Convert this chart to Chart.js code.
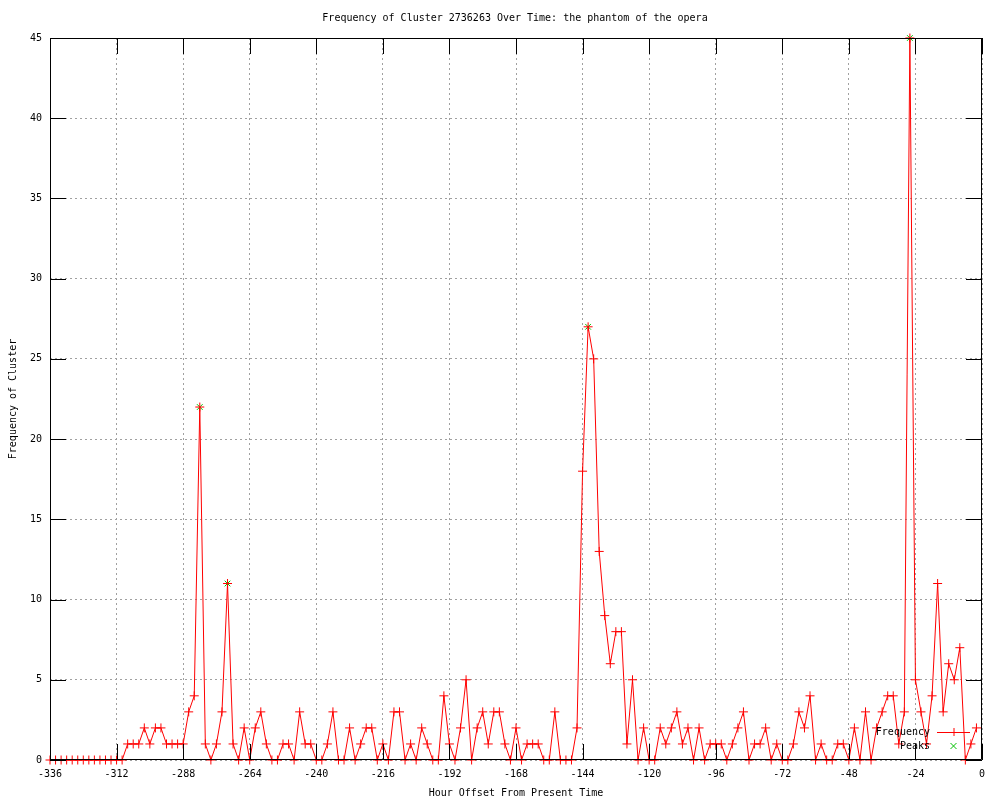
<!DOCTYPE html>
<html lang="en">
<head>
  <meta charset="UTF-8">
  <title>Frequency of Cluster 2736263 Over Time</title>
  <script src="https://cdn.jsdelivr.net/npm/chart.js"></script>
  <style>
    html, body { margin: 0; padding: 0; background: #fff; }
    #chart { display: block; }
  </style>
</head>
<body>
  <canvas id="chart" width="1000" height="800"></canvas>

  <script>
    // hours before now, one point every 2 hours
    const hours = [
      -336, -334, -332, -330, -328, -326, -324, -322, -320, -318, -316, -314,
      -312, -310, -308, -306, -304, -302, -300, -298, -296, -294, -292, -290,
      -288, -286, -284, -282, -280, -278, -276, -274, -272, -270, -268, -266,
      -264, -262, -260, -258, -256, -254, -252, -250, -248, -246, -244, -242,
      -240, -238, -236, -234, -232, -230, -228, -226, -224, -222, -220, -218,
      -216, -214, -212, -210, -208, -206, -204, -202, -200, -198, -196, -194,
      -192, -190, -188, -186, -184, -182, -180, -178, -176, -174, -172, -170,
      -168, -166, -164, -162, -160, -158, -156, -154, -152, -150, -148, -146,
      -144, -142, -140, -138, -136, -134, -132, -130, -128, -126, -124, -122,
      -120, -118, -116, -114, -112, -110, -108, -106, -104, -102, -100, -98,
      -96, -94, -92, -90, -88, -86, -84, -82, -80, -78, -76, -74,
      -72, -70, -68, -66, -64, -62, -60, -58, -56, -54, -52, -50,
      -48, -46, -44, -42, -40, -38, -36, -34, -32, -30, -28, -26,
      -24, -22, -20, -18, -16, -14, -12, -10, -8, -6, -4, -2
    ];
    const frequency = [
      0, 0, 0, 0, 0, 0, 0, 0, 0, 0, 0, 0,
      0, 0, 1, 1, 1, 2, 1, 2, 2, 1, 1, 1,
      1, 3, 4, 22, 1, 0, 1, 3, 11, 1, 0, 2,
      0, 2, 3, 1, 0, 0, 1, 1, 0, 3, 1, 1,
      0, 0, 1, 3, 0, 0, 2, 0, 1, 2, 2, 0,
      1, 0, 3, 3, 0, 1, 0, 2, 1, 0, 0, 4,
      1, 0, 2, 5, 0, 2, 3, 1, 3, 3, 1, 0,
      2, 0, 1, 1, 1, 0, 0, 3, 0, 0, 0, 2,
      18, 27, 25, 13, 9, 6, 8, 8, 1, 5, 0, 2,
      0, 0, 2, 1, 2, 3, 1, 2, 0, 2, 0, 1,
      1, 1, 0, 1, 2, 3, 0, 1, 1, 2, 0, 1,
      0, 0, 1, 3, 2, 4, 0, 1, 0, 0, 1, 1,
      0, 2, 0, 3, 0, 2, 3, 4, 4, 1, 3, 45,
      5, 3, 1, 4, 11, 3, 6, 5, 7, 0, 1, 2
    ];
    const peakHours = [-282, -272, -142, -26];
    const peakValues = [22, 11, 27, 45];

    const xTicks = [-336, -312, -288, -264, -240, -216, -192, -168, -144, -120, -96, -72, -48, -24, 0];
    const yTicks = [0, 5, 10, 15, 20, 25, 30, 35, 40, 45];

    const TITLE = 'Frequency of Cluster 2736263 Over Time: the phantom of the opera';
    const FONT = '"DejaVu Sans Mono", "Liberation Mono", monospace';
    const TIC = 16;

    // gnuplot style frame: full border plus inward tics on all four sides,
    // title centred over the plot box
    const framePlugin = {
      id: 'frame',
      afterDatasetsDraw(chart) {
        const { ctx, chartArea: a, scales } = chart;
        ctx.save();
        ctx.strokeStyle = '#000';
        ctx.lineWidth = 1;
        ctx.beginPath();
        ctx.rect(a.left + 0.5, a.top + 0.5, a.right - a.left - 1, a.bottom - a.top - 1);
        xTicks.forEach(v => {
          const px = Math.round(scales.x.getPixelForValue(v)) + 0.5;
          ctx.moveTo(px, a.bottom); ctx.lineTo(px, a.bottom - TIC);
          ctx.moveTo(px, a.top); ctx.lineTo(px, a.top + TIC);
        });
        yTicks.forEach(v => {
          const py = Math.round(scales.y.getPixelForValue(v)) + 0.5;
          ctx.moveTo(a.left, py); ctx.lineTo(a.left + TIC, py);
          ctx.moveTo(a.right, py); ctx.lineTo(a.right - TIC, py);
        });
        ctx.stroke();

        ctx.font = '10px ' + FONT;
        ctx.fillStyle = '#000';
        ctx.textAlign = 'center';
        ctx.textBaseline = 'middle';
        ctx.fillText(TITLE, (a.left + a.right) / 2 - 1, 18);
        ctx.restore();
      }
    };

    // key in the lower right, text right aligned then the sample
    const keyPlugin = {
      id: 'key',
      afterDraw(chart) {
        const { ctx, chartArea: a } = chart;
        const textRight = a.right - 52;
        const sampleL = a.right - 45, sampleR = a.right - 12;
        const mid = (sampleL + sampleR) / 2;
        ctx.save();
        ctx.font = '10px ' + FONT;
        ctx.fillStyle = '#000';
        ctx.textAlign = 'right';
        ctx.textBaseline = 'middle';
        chart.data.datasets.forEach((ds, i) => {
          const y = a.bottom - 28 + i * 14;
          ctx.fillText(ds.label, textRight, y);
          ctx.strokeStyle = ds.borderColor;
          ctx.lineWidth = 1;
          ctx.beginPath();
          if (ds.showLine) {
            ctx.moveTo(sampleL, y + 0.5); ctx.lineTo(sampleR, y + 0.5);
          }
          if (ds.pointStyle === 'cross') {
            ctx.moveTo(mid - 4, y + 0.5); ctx.lineTo(mid + 4, y + 0.5);
            ctx.moveTo(mid + 0.5, y - 4); ctx.lineTo(mid + 0.5, y + 4);
          } else {
            ctx.moveTo(mid - 3, y - 3); ctx.lineTo(mid + 3, y + 3);
            ctx.moveTo(mid + 3, y - 3); ctx.lineTo(mid - 3, y + 3);
          }
          ctx.stroke();
        });
        ctx.restore();
      }
    };

    new Chart(document.getElementById('chart'), {
      type: 'scatter',
      data: {
        datasets: [
          {
            label: 'Frequency',
            data: hours.map((h, i) => ({ x: h, y: frequency[i] })),
            showLine: true,
            borderColor: '#ff0000',
            backgroundColor: '#ff0000',
            borderWidth: 1,
            pointStyle: 'cross',
            pointRadius: 4.5,
            pointBorderWidth: 1,
            tension: 0,
            clip: false
          },
          {
            label: 'Peaks',
            data: peakHours.map((h, i) => ({ x: h, y: peakValues[i] })),
            showLine: false,
            borderColor: '#00c000',
            backgroundColor: '#00c000',
            pointStyle: 'crossRot',
            pointRadius: 4,
            pointBorderWidth: 1,
            clip: false
          }
        ]
      },
      options: {
        responsive: false,
        animation: false,
        events: [],
        layout: { padding: { left: 0, right: 18, top: 38, bottom: 0 } },
        plugins: {
          legend: { display: false },
          tooltip: { enabled: false },
          title: { display: false }
        },
        scales: {
          x: {
            type: 'linear',
            min: -336,
            max: 0,
            afterFit(s) { s.height = 40; },
            afterBuildTicks(s) { s.ticks = xTicks.map(v => ({ value: v })); },
            ticks: {
              color: '#000',
              padding: 8,
              maxRotation: 0,
              autoSkip: false,
              font: { family: FONT, size: 10 },
              callback: v => String(v)
            },
            grid: { color: '#a0a0a0', drawTicks: false, lineWidth: 1 },
            border: { display: false, dash: [2, 3] },
            title: {
              display: true,
              text: 'Hour Offset From Present Time',
              color: '#000',
              font: { family: FONT, size: 10, lineHeight: 1.2 },
              padding: { top: 0, bottom: 1 }
            }
          },
          y: {
            min: 0,
            max: 45,
            afterFit(s) { s.width = 50; },
            afterBuildTicks(s) { s.ticks = yTicks.map(v => ({ value: v })); },
            ticks: {
              color: '#000',
              padding: 8,
              font: { family: FONT, size: 10 },
              callback: v => String(v)
            },
            grid: { color: '#a0a0a0', drawTicks: false, lineWidth: 1 },
            border: { display: false, dash: [2, 3] },
            title: {
              display: true,
              text: 'Frequency of Cluster',
              color: '#000',
              font: { family: FONT, size: 10, lineHeight: 1.2 },
              padding: { top: 7, bottom: 0 }
            }
          }
        }
      },
      plugins: [framePlugin, keyPlugin]
    });
  </script>
</body>
</html>
